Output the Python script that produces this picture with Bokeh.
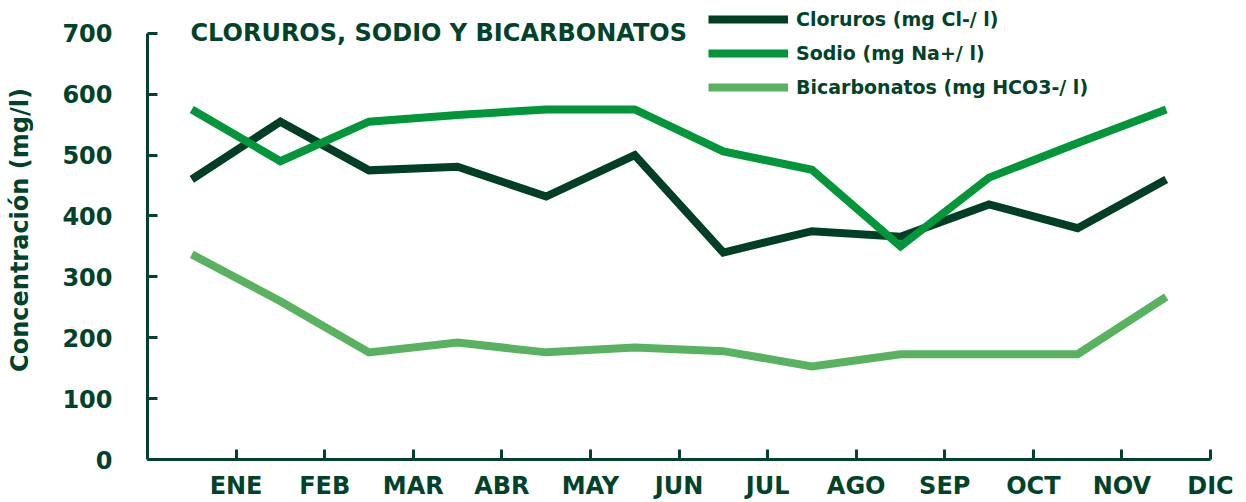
import numpy as np
from bokeh.plotting import figure
from bokeh.models import Range1d, FixedTicker, Label, Legend, LegendItem, LinearAxis
from bokeh.embed import file_html
from bokeh.resources import INLINE

months = ["ENE", "FEB", "MAR", "ABR", "MAY", "JUN", "JUL", "AGO", "SEP", "OCT", "NOV", "DIC"]
cloruros = [460, 555, 475, 481, 432, 500, 340, 375, 366, 419, 380, 460]
sodio = [575, 490, 555, 566, 575, 575, 506, 476, 350, 463, 520, 575]
bicarbonatos = [337, 260, 176, 192, 176, 184, 178, 153, 173, 173, 173, 267]
series_names = ["Cloruros (mg Cl-/ l)", "Sodio (mg Na+/ l)", "Bicarbonatos (mg HCO3-/ l)"]
y_ticks = [0, 100, 200, 300, 400, 500, 600, 700]
title_text = "CLORUROS, SODIO Y BICARBONATOS"
y_title = "Concentración (mg/l)"

DARK = "#00432a"
colors = ["#003f25", "#009639", "#58b25f"]
FONT = "DejaVu Sans"

x = np.arange(len(months)) + 0.5
tick_pos = list(range(1, len(months) + 1))

p = figure(width=1246, height=502, output_backend="svg", toolbar_location=None,
           x_range=Range1d(0, 12), y_range=Range1d(0, 754),
           min_border_left=147, min_border_right=36, min_border_top=0, min_border_bottom=41)
p.outline_line_color = None
p.xgrid.visible = False
p.ygrid.visible = False
p.background_fill_color = "white"
p.border_fill_color = "white"

renderers = []
for ys, c in zip([cloruros, sodio, bicarbonatos], colors):
    r = p.line(x, ys, line_color=c, line_width=8, line_join="miter")
    renderers.append(r)

for ax in (p.xaxis[0], p.yaxis[0]):
    ax.axis_line_color = DARK
    ax.axis_line_width = 3
    ax.major_tick_line_color = DARK
    ax.major_tick_line_width = 3
    ax.major_tick_in = 10
    ax.major_tick_out = 0
    ax.minor_tick_line_color = None
    ax.major_label_text_font = FONT
    ax.major_label_text_font_style = "bold"
    ax.major_label_text_font_size = "24px"
    ax.major_label_text_color = DARK

p.xaxis.ticker = FixedTicker(ticks=tick_pos)
p.xaxis.major_label_overrides = {t: m for t, m in zip(tick_pos, months)}
p.xaxis.major_label_standoff = 12
p.yaxis.ticker = FixedTicker(ticks=y_ticks)
p.yaxis.major_label_standoff = 35
p.yaxis.bounds = (0, 700)

# outer axis carrying only the axis title
title_axis = LinearAxis(bounds=(95, 700), ticker=FixedTicker(ticks=[]),
                        axis_line_color=None, major_tick_line_color=None,
                        minor_tick_line_color=None, major_label_text_font_size="0px",
                        axis_label=y_title, axis_label_text_font=FONT,
                        axis_label_text_font_style="bold", axis_label_text_font_size="24px",
                        axis_label_text_color=DARK, axis_label_standoff=26)
p.add_layout(title_axis, "left")

p.add_layout(Label(x=0.485, y=700, text=title_text, text_font=FONT, text_font_style="bold",
                   text_font_size="24px", text_color=DARK, text_baseline="alphabetic"))

legend = Legend(items=[LegendItem(label=n, renderers=[r]) for n, r in zip(series_names, renderers)],
                location=(561, 360), padding=0, margin=0, spacing=10,
                glyph_width=80, glyph_height=24, label_height=24, label_standoff=8,
                label_text_font=FONT, label_text_font_style="bold",
                label_text_font_size="19px", label_text_color=DARK,
                border_line_alpha=0, background_fill_alpha=0)
p.add_layout(legend)

open("out.html", "w").write(file_html(p, INLINE))
